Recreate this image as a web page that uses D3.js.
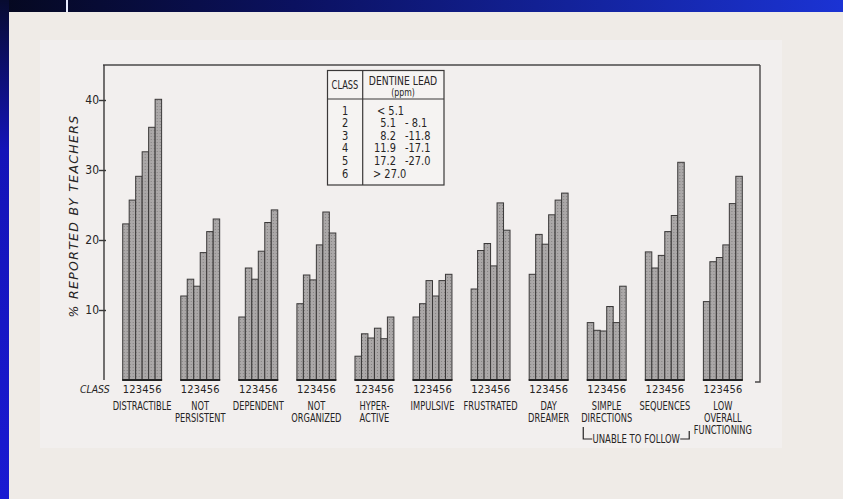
<!DOCTYPE html>
<html><head><meta charset="utf-8">
<script src="https://cdn.jsdelivr.net/npm/d3@7"></script>
<style>html,body{margin:0;padding:0;background:#f1edec;}svg{display:block}</style>
</head><body>
<script>
// ---- data ----
const categories = [
  ["DISTRACTIBLE"], ["NOT","PERSISTENT"], ["DEPENDENT"], ["NOT","ORGANIZED"],
  ["HYPER-","ACTIVE"], ["IMPULSIVE"], ["FRUSTRATED"], ["DAY","DREAMER"],
  ["SIMPLE","DIRECTIONS"], ["SEQUENCES"], ["LOW","OVERALL","FUNCTIONING"]
];
const classes = ["1","2","3","4","5","6"];
const class1 = [22.3, 12.0,  9.0, 10.9, 3.4,  9.0, 13.0, 15.1,  8.2, 18.3, 11.2];
const class2 = [25.7, 14.4, 16.0, 15.0, 6.6, 10.9, 18.5, 20.8,  7.1, 16.0, 16.9];
const class3 = [29.1, 13.4, 14.4, 14.3, 6.0, 14.2, 19.5, 19.4,  7.0, 17.8, 17.5];
const class4 = [32.6, 18.2, 18.4, 19.3, 7.4, 12.0, 16.3, 23.6, 10.5, 21.2, 19.3];
const class5 = [36.1, 21.2, 22.5, 24.0, 5.9, 14.2, 25.3, 25.7,  8.2, 23.5, 25.2];
const class6 = [40.1, 23.0, 24.3, 21.0, 9.0, 15.1, 21.4, 26.7, 13.4, 31.1, 29.1];
const yTicks = [10, 20, 30, 40];
const leadLow  = ["< 5.1", "5.1", "8.2", "11.9", "17.2", "> 27.0"];
const leadHigh = ["", "- 8.1", "-11.8", "-17.1", "-27.0", ""];
const yTitle = "% REPORTED BY TEACHERS";
const bracketLabel = "UNABLE TO FOLLOW";

const series = [class1, class2, class3, class4, class5, class6];
const keys = categories.map(c => c.join(" "));
const rows = keys.map((k, i) => ({key: k, lines: categories[i], vals: series.map(s => s[i])}));

// ---- layout ----
const W = 843, H = 499;
const svg = d3.select("body").append("svg").attr("width", W).attr("height", H);
const defs = svg.append("defs");
const gTop = defs.append("linearGradient").attr("id","gt").attr("x1","0").attr("x2","1").attr("y1","0").attr("y2","0");
gTop.append("stop").attr("offset","0").attr("stop-color","#05081f");
gTop.append("stop").attr("offset","0.35").attr("stop-color","#0b1160");
gTop.append("stop").attr("offset","1").attr("stop-color","#1b33d4");
const gLeft = defs.append("linearGradient").attr("id","gl").attr("x1","0").attr("x2","0").attr("y1","0").attr("y2","1");
gLeft.append("stop").attr("offset","0").attr("stop-color","#070b30");
gLeft.append("stop").attr("offset","0.3").attr("stop-color","#1414b8");
gLeft.append("stop").attr("offset","1").attr("stop-color","#1a1ad2");
const pat = defs.append("pattern").attr("id","stip").attr("width",3).attr("height",3).attr("patternUnits","userSpaceOnUse");
pat.append("rect").attr("width",3).attr("height",3).attr("fill","#aba8a8");
pat.append("rect").attr("x",1).attr("y",1).attr("width",1).attr("height",1).attr("fill","#858282");

// paper
svg.append("rect").attr("width",W).attr("height",H).attr("fill","#efebe7");
svg.append("rect").attr("x",40).attr("y",40).attr("width",742).attr("height",408).attr("fill","#f2efee");
// blue frame
svg.append("rect").attr("x",0).attr("y",0).attr("width",W).attr("height",12).attr("fill","url(#gt)");
svg.append("rect").attr("x",0).attr("y",0).attr("width",9).attr("height",H).attr("fill","url(#gl)");
svg.append("rect").attr("x",66).attr("y",0).attr("width",2).attr("height",12).attr("fill","#e8ecff");

const y = d3.scaleLinear().domain([0, 45]).range([380, 65]);
const x = d3.scaleBand().domain(keys).range([122.7, 742.3]).paddingInner(0.33).paddingOuter(0);
const xi = d3.scaleBand().domain(classes).range([0, x.bandwidth()]).padding(0);

const ink = "#262424";
const narrow = (sel, sx) => sel.attr("transform", function(){ 
  const t = d3.select(this); return `translate(${t.attr("data-x")},${t.attr("data-y")}) scale(${sx},1)`; });

// frame lines (axis + top + right)
svg.append("line").attr("x1",103).attr("x2",760).attr("y1",65).attr("y2",65).attr("stroke","#4a4848").attr("stroke-width",1.4);
svg.append("path").attr("d","M760,65V382H755").attr("fill","none").attr("stroke","#4a4848").attr("stroke-width",1.4);

// y axis
const yAxis = d3.axisLeft(y).tickValues(yTicks).tickSize(5).tickFormat(d3.format("d"));
const ga = svg.append("g").attr("transform","translate(104,0)").call(yAxis);
ga.select(".domain").attr("d", `M0,${y(45)}V${y(0)}`).attr("stroke","#3a3838").attr("stroke-width",1.4);
ga.selectAll(".tick line").attr("stroke","#3a3838").attr("stroke-width",1.4).attr("x1",2);
ga.selectAll(".tick text").attr("font-family","'DejaVu Sans Condensed','DejaVu Sans',sans-serif")
  .attr("font-size",12).attr("fill",ink).attr("x",-5);

// y title
svg.append("text").attr("transform",`translate(78,216) rotate(-90)`)
  .attr("text-anchor","middle").attr("font-family","'DejaVu Sans','Liberation Sans',sans-serif")
  .attr("font-style","italic").attr("font-size",12.5).attr("letter-spacing",1.3).attr("fill",ink).text(yTitle);

// bars
const groups = svg.append("g").selectAll("g").data(rows).join("g")
  .attr("transform", d => `translate(${x(d.key)},0)`);
groups.selectAll("rect").data(d => d.vals.map((v, i) => ({cls: classes[i], v})))
  .join("rect")
  .attr("x", d => xi(d.cls)).attr("width", xi.bandwidth())
  .attr("y", d => y(d.v)).attr("height", d => y(0) - y(d.v))
  .attr("fill","url(#stip)").attr("stroke","#3a3838").attr("stroke-width",1);
groups.append("line").attr("x1",-0.5).attr("x2",x.bandwidth()+0.5).attr("y1",y(0)).attr("y2",y(0))
  .attr("stroke","#222").attr("stroke-width",2);

// class numbers under bars
groups.selectAll("text.cn").data(classes).join("text").attr("class","cn")
  .attr("x", d => xi(d) + xi.bandwidth()/2).attr("y", 393)
  .attr("text-anchor","middle").attr("font-family","'DejaVu Sans Condensed','DejaVu Sans',sans-serif")
  .attr("font-size",11).attr("fill",ink).text(d => d);

svg.append("text").attr("data-x",80).attr("data-y",393).call(narrow, 0.85)
  .attr("font-family","'DejaVu Sans','Liberation Sans',sans-serif").attr("font-style","italic")
  .attr("font-size",11).attr("fill",ink).text("CLASS");

// category labels
groups.each(function(d){
  const g = d3.select(this);
  d.lines.forEach((ln, j) => {
    g.append("text").attr("data-x", x.bandwidth()/2).attr("data-y", 410 + j*12).call(narrow, 0.72)
      .attr("text-anchor","middle").attr("font-family","'DejaVu Sans','Liberation Sans',sans-serif")
      .attr("font-size",11.5).attr("fill",ink).text(ln);
  });
});

// bracket: unable to follow
const bx1 = x(keys[8]) - 4, bx2 = x(keys[9]) + x.bandwidth() + 5, by = 439;
svg.append("path").attr("d",`M${bx1},427V${by}H${bx1+9}`).attr("fill","none").attr("stroke",ink).attr("stroke-width",1.2);
svg.append("path").attr("d",`M${bx2-9},${by}H${bx2}V431`).attr("fill","none").attr("stroke",ink).attr("stroke-width",1.2);
svg.append("text").attr("data-x",(bx1+bx2)/2).attr("data-y",443).call(narrow, 0.74)
  .attr("text-anchor","middle").attr("font-family","'DejaVu Sans','Liberation Sans',sans-serif")
  .attr("font-size",11.5).attr("fill",ink).text(bracketLabel);

// legend table
const lg = svg.append("g");
lg.append("rect").attr("x",327.5).attr("y",70.5).attr("width",116.5).attr("height",114.5)
  .attr("fill","#f5f3f2").attr("stroke","#3a3838").attr("stroke-width",1.2);
lg.append("line").attr("x1",362.7).attr("x2",362.7).attr("y1",70.5).attr("y2",185).attr("stroke","#3a3838").attr("stroke-width",1.2);
lg.append("line").attr("x1",327.5).attr("x2",444).attr("y1",99).attr("y2",99).attr("stroke","#3a3838").attr("stroke-width",1.2);
const lf = "'DejaVu Sans','Liberation Sans',sans-serif";
lg.append("text").attr("data-x",345).attr("data-y",89).call(narrow,0.72).attr("text-anchor","middle")
  .attr("font-family",lf).attr("font-size",11.5).attr("fill",ink).text("CLASS");
lg.append("text").attr("data-x",403).attr("data-y",84.5).call(narrow,0.74).attr("text-anchor","middle")
  .attr("font-family",lf).attr("font-size",12.5).attr("fill",ink).text("DENTINE LEAD");
lg.append("text").attr("data-x",403).attr("data-y",95.5).call(narrow,0.78).attr("text-anchor","middle")
  .attr("font-family",lf).attr("font-size",10).attr("fill",ink).text("(ppm)");
const rowY = i => 114.5 + i * 12.6;
classes.forEach((c, i) => {
  lg.append("text").attr("data-x",345).attr("data-y",rowY(i)).call(narrow,0.82).attr("text-anchor","middle")
    .attr("font-family",lf).attr("font-size",12).attr("fill",ink).text(c);
  const hasHigh = leadHigh[i] !== "";
  lg.append("text").attr("data-x", hasHigh ? 396 : (i === 0 ? 377 : 373)).attr("data-y",rowY(i)).call(narrow,0.82)
    .attr("text-anchor", hasHigh ? "end" : "start")
    .attr("font-family",lf).attr("font-size",12).attr("fill",ink).text(leadLow[i]);
  if (hasHigh) lg.append("text").attr("data-x",405).attr("data-y",rowY(i)).call(narrow,0.82)
    .attr("font-family",lf).attr("font-size",12).attr("fill",ink).text(leadHigh[i]);
});
</script>
</body></html>
